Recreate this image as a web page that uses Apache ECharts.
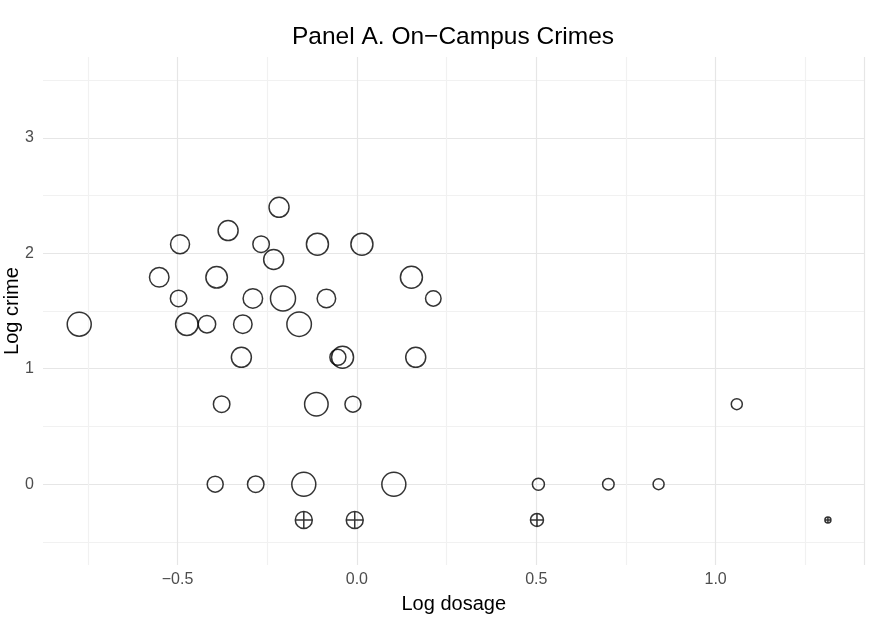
<!DOCTYPE html>
<html>
<head>
<meta charset="utf-8">
<script src="https://cdn.jsdelivr.net/npm/echarts@6/dist/echarts.min.js"></script>
<style>
  html, body { margin: 0; padding: 0; background: #fff; }
  #chart { width: 874px; height: 628px; }
</style>
</head>
<body>
<div id="chart"></div>
<script>
// colleges with at least one on-campus crime: log dosage, log crime, marker size
var campusDosage = [-0.217, -0.359, -0.493, -0.267, -0.110, 0.014, -0.232, -0.551, -0.391, 0.152,
    -0.497, -0.290, -0.206, -0.085, 0.213, -0.774, -0.474, -0.418, -0.318, -0.161,
    -0.322, -0.053, -0.040, 0.164, -0.377, -0.113, -0.011, 1.059,
    -0.395, -0.282, -0.148, 0.103, 0.506, 0.701, 0.841];
var campusCrime = [2.398, 2.197, 2.079, 2.079, 2.079, 2.079, 1.946, 1.792, 1.792, 1.792,
    1.609, 1.609, 1.609, 1.609, 1.609, 1.386, 1.386, 1.386, 1.386, 1.386,
    1.099, 1.099, 1.099, 1.099, 0.693, 0.693, 0.693, 0.693,
    0, 0, 0, 0, 0, 0, 0];
var campusSize = [20, 20, 19, 16.5, 22, 22, 20, 19.5, 21.5, 22,
    16.5, 19.5, 25, 18.5, 15.5, 24, 22.5, 17.5, 18.5, 24.5,
    20, 16, 22, 20, 16.5, 23.5, 16, 11,
    16, 16.5, 24, 24, 12, 11.5, 11];

// colleges with zero crimes (drawn below the axis with a crossed circle)
var zeroDosage = [-0.148, -0.006, 0.502, 1.313];
var zeroCrime = [-0.31, -0.31, -0.31, -0.31];
var zeroSize = [17, 17, 13, 6];

var xTickStep = 0.5;
var yTickStep = 1;

var chart = echarts.init(document.getElementById('chart'));

var zip = function (xs, ys, ss) {
    return xs.map(function (x, i) { return [x, ys[i], ss[i]]; });
};
var isStep = function (v, step) {
    return Math.abs(v / step - Math.round(v / step)) < 1e-6;
};
var minus = function (s) { return s.replace('-', '\u2212'); };

var NONE = 'rgba(0,0,0,0)';
var MAJOR = '#e6e6e6';
var MINOR = '#f1f1f1';
var FONT = '"Liberation Sans", Arial, Helvetica, sans-serif';

var circlePlus = 'path://M0,-10A10,10 0 1,1 0,10A10,10 0 1,1 0,-10Z M-10,0L10,0 M0,-10L0,10';

chart.setOption({
    animation: false,
    backgroundColor: '#fff',
    textStyle: { fontFamily: FONT },
    title: {
        text: 'Panel A. On\u2212Campus Crimes',
        left: 448, top: 20, textAlign: 'center',
        textStyle: { fontFamily: FONT, fontSize: 24.5, fontWeight: 'normal', color: '#000' }
    },
    grid: { left: 43, right: 9.5, top: 57, bottom: 63, containLabel: false, outerBoundsMode: 'none' },
    xAxis: {
        type: 'value',
        min: -0.875, max: 1.415, interval: 0.125,
        name: 'Log dosage', nameLocation: 'middle', nameGap: 29, nameMoveOverlap: false,
        nameTextStyle: { fontFamily: FONT, fontSize: 20, color: '#000' },
        axisLine: { show: false }, axisTick: { show: false },
        axisLabel: {
            margin: 7, fontSize: 16, color: '#4d4d4d', fontFamily: FONT,
            formatter: function (v) { return isStep(v, xTickStep) ? minus(v.toFixed(1)) : ''; }
        },
        splitLine: { lineStyle: { width: 1.2, color: [NONE, MINOR, NONE, MAJOR] } }
    },
    yAxis: {
        type: 'value',
        min: -0.7, max: 3.7, interval: 0.1,
        name: 'Log crime', nameLocation: 'middle', nameGap: 21, nameMoveOverlap: false,
        nameTextStyle: { fontFamily: FONT, fontSize: 20, color: '#000' },
        axisLine: { show: false }, axisTick: { show: false },
        axisLabel: {
            margin: 9, fontSize: 16, color: '#4d4d4d', fontFamily: FONT,
            formatter: function (v) { return isStep(v, yTickStep) ? String(Math.round(v)) : ''; }
        },
        splitLine: { lineStyle: { width: 1.2, color: [NONE, NONE, MINOR, NONE, NONE, NONE, NONE, MAJOR, NONE, NONE] } }
    },
    series: [
        {
            type: 'scatter',
            data: zip(campusDosage, campusCrime, campusSize),
            symbol: 'circle',
            symbolSize: function (v) { return v[2]; },
            itemStyle: { color: 'rgba(255,255,255,0)', borderColor: '#000', borderWidth: 1.5 }
        },
        {
            type: 'scatter',
            data: zip(zeroDosage, zeroCrime, zeroSize),
            symbol: circlePlus,
            symbolSize: function (v) { return v[2]; },
            itemStyle: { color: 'rgba(255,255,255,0)', borderColor: '#000', borderWidth: 1.5 }
        }
    ]
});
</script>
</body>
</html>
